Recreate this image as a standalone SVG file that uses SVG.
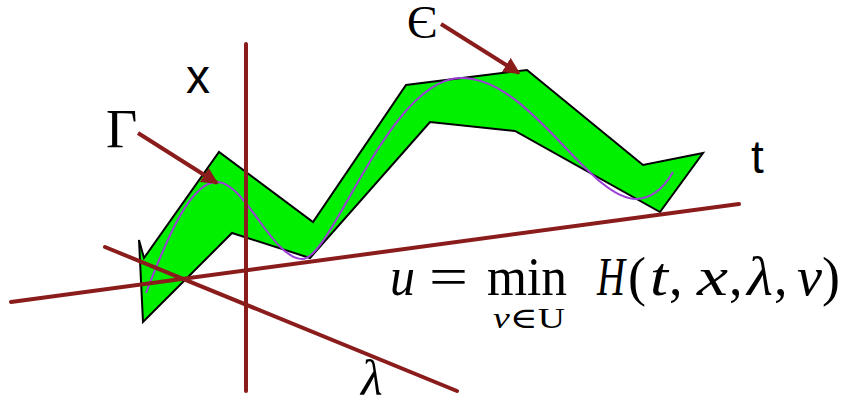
<svg xmlns="http://www.w3.org/2000/svg" width="841" height="402" viewBox="0 0 841 402">
  <defs>
    <marker id="ah" viewBox="0 0 10 10" refX="9" refY="5" markerWidth="4.2" markerHeight="4.2" markerUnits="strokeWidth" orient="auto">
      <path d="M0,0 L10,5 L0,10 z" fill="#8A1C1C"/>
    </marker>
    <style>
      .axis { stroke: #8A1C1C; stroke-width: 4; fill: none; stroke-linecap: round; }
      .ptr { stroke: #8A1C1C; stroke-width: 4; fill: none; marker-end: url(#ah); }
      .sans { font-family: "Liberation Sans", "Open Sans", sans-serif; fill: #000; }
      .serif { font-family: "Liberation Serif", "DejaVu Serif", serif; fill: #000; }
      .it { font-style: italic; }
    </style>
  </defs>
  <rect width="841" height="402" fill="#fff"/>

  <g id="tube">
    <polygon points="144,258 219,152 313,222 406,85 527,70 643,165 703,153 660,212 515,131 430,122 310,258 232,233 143,322 139,240" fill="#00F000" stroke="#000" stroke-width="2" stroke-linejoin="miter"/>
  </g>

  <g id="trajectory">
    <path d="M146,293 C168,235 192,180 218,182 C246,184 272,258 302,259 C332,260 388,80 460,78 C530,76 588,200 637,199 C654,198 665,186 673,172" fill="none" stroke="#9B3FD6" stroke-width="2"/>
  </g>

  <g id="connectors">
    <line class="axis" x1="246" y1="44" x2="246" y2="391"/>
    <line class="axis" x1="11" y1="302" x2="739" y2="204"/>
    <line class="axis" x1="105" y1="247" x2="457" y2="391"/>
    <line class="ptr" x1="138" y1="133" x2="217" y2="183"/>
    <line class="ptr" x1="441" y1="24" x2="519" y2="73"/>
  </g>

  <g id="label-x"><text class="sans" x="186" y="93" font-size="48">x</text></g>
  <g id="label-t"><text class="sans" x="751" y="173" font-size="46">t</text></g>
  <g id="label-gamma"><text class="serif" x="106" y="147" font-size="54">Γ</text></g>
  <g id="label-eps"><text class="serif" x="407" y="38" font-size="46">Є</text></g>
  <g id="label-lambda"><text class="serif it" x="361" y="395" font-size="50">λ</text></g>

  <g id="formula" class="serif" font-size="54">
    <text class="serif it" x="390" y="295" textLength="25" lengthAdjust="spacingAndGlyphs">u</text>
    <text class="serif" x="429" y="295" textLength="39" lengthAdjust="spacingAndGlyphs">=</text>
    <text class="serif" x="487" y="295" textLength="80" lengthAdjust="spacingAndGlyphs">min</text>
    <text class="serif it" x="597" y="295" textLength="28" lengthAdjust="spacingAndGlyphs">H</text>
    <text class="serif" x="628" y="295">(</text>
    <text class="serif it" x="650" y="295" textLength="18" lengthAdjust="spacingAndGlyphs">t</text>
    <text class="serif" x="669" y="295">,</text>
    <text class="serif it" x="697" y="295" textLength="31" lengthAdjust="spacingAndGlyphs">x</text>
    <text class="serif" x="729" y="295">,</text>
    <text class="serif it" x="747" y="295" textLength="26" lengthAdjust="spacingAndGlyphs">λ</text>
    <text class="serif" x="774" y="295">,</text>
    <text class="serif it" x="797" y="295" textLength="25" lengthAdjust="spacingAndGlyphs">v</text>
    <text class="serif" x="822" y="295">)</text>
    <text class="serif" x="493" y="328" font-size="29" textLength="72" lengthAdjust="spacingAndGlyphs"><tspan class="it">v</tspan>∈U</text>
  </g>
</svg>
